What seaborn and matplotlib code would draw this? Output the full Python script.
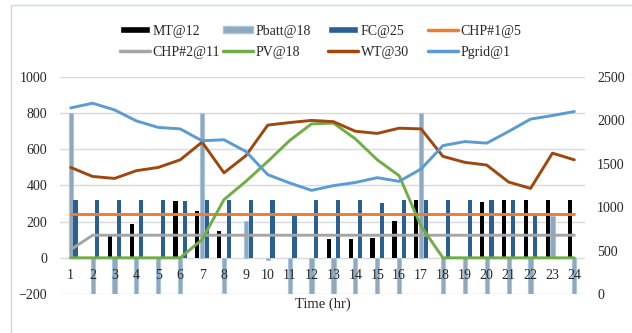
import numpy as np
import pandas as pd
import matplotlib.pyplot as plt
import seaborn as sns
from matplotlib.patches import Patch
from matplotlib.lines import Line2D

# hourly dispatch, values
hours = [str(h) for h in range(1, 25)]

mt = [0, 0, 123, 189, 0, 314, 261, 149, 0, 0, 0, 0,
      103, 103, 107, 203, 320, 0, 0, 308, 320, 320, 320, 320]
pbatt = [800, -200, -200, -200, -200, -200, 800, -192, 205, -12, -200, -200,
         -200, -200, -200, -200, 800, -200, -200, -200, -200, -200, 230, -200]
fc = [320, 320, 320, 320, 320, 312, 320, 320, 320, 320, 240, 320,
      320, 320, 302, 320, 320, 320, 320, 320, 320, 236, 0, 0]
chp1 = [245, 245, 245, 245, 245, 245, 245, 245, 245, 245, 245, 245,
        245, 245, 245, 245, 245, 245, 245, 245, 245, 245, 245, 245]
chp2 = [45, 125, 125, 125, 125, 125, 125, 125, 125, 125, 125, 125,
        125, 125, 125, 125, 125, 125, 125, 125, 125, 125, 125, 125]
pv = [0, 0, 0, 0, 0, 0, 101, 322, 423, 533, 649, 741,
      745, 658, 542, 454, 175, 0, 0, 0, 0, 0, 0, 0]
wt = [500, 450, 439, 482, 500, 542, 640, 470, 565, 734, 748, 760,
      753, 700, 688, 717, 713, 561, 528, 513, 419, 384, 579, 542]
# grid power is plotted against the secondary axis
pgrid = [2144, 2198, 2121, 1994, 1919, 1902, 1765, 1777, 1642, 1375, 1279, 1194,
         1248, 1285, 1340, 1298, 1440, 1710, 1756, 1738, 1873, 2015, 2056, 2102]

bar_names = ['MT@12', 'Pbatt@18', 'FC@25']
bar_colors = ['#000000', '#8fa8ba', '#2a5f91']
c_chp1, c_chp2, c_pv, c_wt, c_grid = '#ed7d31', '#a5a5a5', '#70ad47', '#9e480e', '#5b9bd5'

sns.set_style('white')
plt.rcParams['font.family'] = ['Liberation Serif', 'DejaVu Serif']

fig = plt.figure(figsize=(6.32, 3.33), dpi=100)
ax = fig.add_axes([59.75 / 632, 1 - 294 / 333, (585.3 - 59.75) / 632, 217 / 333])

bars = pd.DataFrame({
    'hour': hours * 3,
    'series': [bar_names[0]] * 24 + [bar_names[1]] * 24 + [bar_names[2]] * 24,
    'value': mt + pbatt + fc,
})
sns.barplot(data=bars, x='hour', y='value', hue='series', order=hours,
            hue_order=bar_names, palette=bar_colors, width=0.65, gap=0.12,
            saturation=1, errorbar=None, linewidth=0, legend=False, ax=ax)
for patch in ax.containers[1]:
    patch.set_edgecolor('#a9c6e0')
    patch.set_linewidth(0.8)

pos = np.arange(24)
for vals, col in [(chp1, c_chp1), (chp2, c_chp2), (pv, c_pv), (wt, c_wt)]:
    sns.lineplot(x=pos, y=vals, color=col, lw=2.1, ax=ax)

ax2 = ax.twinx()
sns.lineplot(x=pos, y=pgrid, color=c_grid, lw=2.1, ax=ax2)

ax.set_xlim(-0.5, 23.5)
ax.set_ylim(-200, 1000)
ax.set_yticks(range(-200, 1001, 200))
ax2.set_ylim(0, 2500)
ax2.set_yticks(range(0, 2501, 500))
ax.grid(axis='y', color='#d9d9d9', lw=1)
ax.set_axisbelow(True)
ax.set_xlabel('')
ax.set_ylabel('')
ax2.set_ylabel('')
for a in (ax, ax2):
    for s in a.spines.values():
        s.set_visible(False)

# category labels sit just under the zero line and are painted over the bars
ax.set_xticks(pos)
ax.set_xticklabels([])
ax.tick_params(axis='x', length=0)
for i, h in enumerate(hours):
    ax.annotate(h, (i, 0), xytext=(0, -12.5), textcoords='offset points',
                ha='center', va='center', fontsize=10, zorder=6)
ax.tick_params(axis='y', length=0, pad=9, labelsize=10)
ax2.tick_params(axis='y', length=0, pad=8.5, labelsize=10)

fig.text(322.5 / 632, 1 - 304 / 333, 'Time (hr)', ha='center', va='center', fontsize=10.5)

# legend laid out as four columns, like the original
columns = [
    [(Patch(fc=bar_colors[0]), 'MT@12'), (Line2D([], [], color=c_chp2, lw=2.5), 'CHP#2@11')],
    [(Patch(fc=bar_colors[1], ec='#a9c6e0'), 'Pbatt@18'), (Line2D([], [], color=c_pv, lw=2.5), 'PV@18')],
    [(Patch(fc=bar_colors[2]), 'FC@25'), (Line2D([], [], color=c_wt, lw=2.5), 'WT@30')],
    [(Line2D([], [], color=c_chp1, lw=2.5), 'CHP#1@5'), (Line2D([], [], color=c_grid, lw=2.5), 'Pgrid@1')],
]
for x_px, col in zip([120, 223, 328, 428], columns):
    fig.legend(handles=[h for h, _ in col], labels=[l for _, l in col],
               loc='upper left', bbox_to_anchor=(x_px / 632, 1 - 24.5 / 333),
               frameon=False, borderpad=0, borderaxespad=0, handlelength=2.15,
               handleheight=0.45, handletextpad=0.2, labelspacing=0.6, fontsize=10)

# thin chart-area border (only the top and left edges are visible)
fig.add_artist(Line2D([11 / 632, 11 / 632], [0, 1 - 5 / 333], transform=fig.transFigure,
                      color='#c9dbe8', lw=1))
fig.add_artist(Line2D([11 / 632, 1], [1 - 5 / 333, 1 - 5 / 333], transform=fig.transFigure,
                      color='#c9dbe8', lw=1))

fig.savefig('out.png', dpi=100)
